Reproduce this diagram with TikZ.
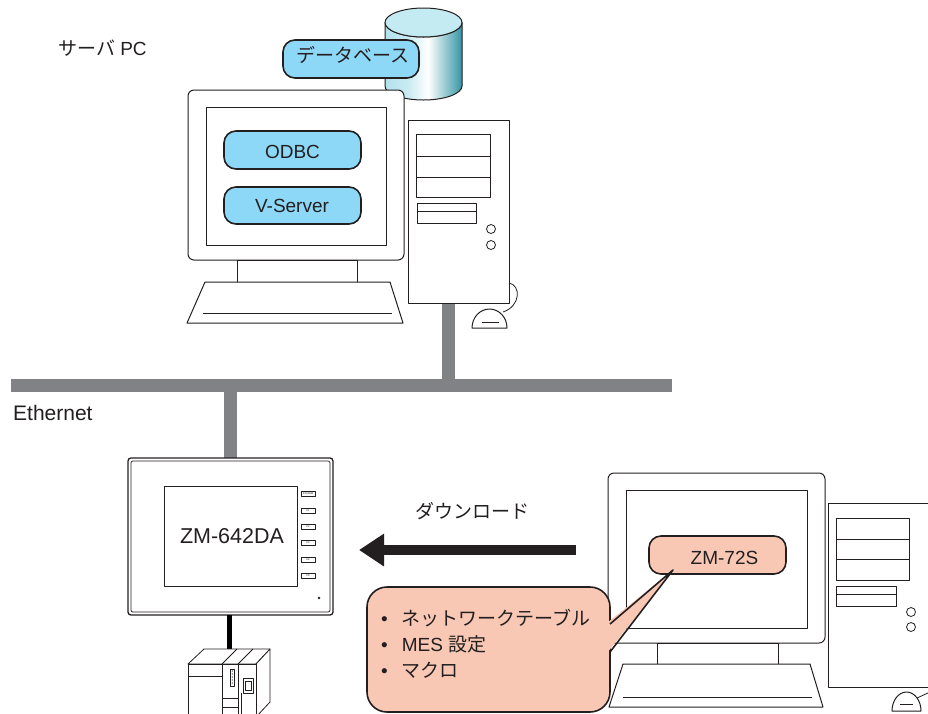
\documentclass[tikz,border=0pt]{standalone}
\usepackage{fontspec}
\setmainfont{Liberation Sans}
\newfontfamily\jp{Noto Sans CJK JP}
\usetikzlibrary{arrows.meta}
\definecolor{ink}{RGB}{35,31,32}
\definecolor{netgray}{RGB}{128,130,133}
\definecolor{appblue}{RGB}{142,216,247}
\definecolor{salmon}{RGB}{249,200,180}
\definecolor{cyllight}{RGB}{178,226,236}
\definecolor{cyltop}{RGB}{196,234,242}
\definecolor{cyldark}{RGB}{52,150,165}
\pgfdeclarehorizontalshading{cylshade}{100bp}{color(0bp)=(cyllight); color(25bp)=(cyllight); color(40bp)=(cyllight!70!white); color(53bp)=(white); color(75bp)=(cyldark); color(100bp)=(cyldark)}
\begin{document}
\begin{tikzpicture}[x=1pt,y=-1pt,line join=round]
\tikzset{
  outline/.style={draw=ink, line width=1pt, fill=white},
  thin/.style={draw=ink, line width=0.8pt},
  appbox/.style={draw=ink, line width=1.6pt, fill=appblue, rounded corners=12pt, inner sep=0pt},
  notebox/.style={draw=ink, line width=1.6pt, fill=salmon},
  net/.style={draw=netgray, line width=13pt},
  lbl/.style={inner sep=0pt, font=\fontsize{19}{19}\selectfont, text=ink},
  biglbl/.style={inner sep=0pt, font=\fontsize{21.5}{21.5}\selectfont, text=ink},
  key/.style={draw=ink, line width=0.6pt, fill=white, minimum width=14pt, minimum height=5pt, inner sep=0pt, font=\fontsize{2.5}{2.5}\selectfont},
}
\useasboundingbox (0,0) rectangle (928,713);
\clip (0,0) rectangle (928,713);
\fill[white] (0,0) rectangle (928,713);

% ---------- network wiring ----------
\coordinate (busW) at (11,385);
\coordinate (busE) at (672,385);
\coordinate (srvtap) at (448,385);
\coordinate (hmitap) at (230,385);
\coordinate (srvfoot) at (448,300);
\coordinate (hmitop) at (230,460);
\draw[net] (busW) -- (busE);
\draw[net] (srvfoot) -- (srvtap);
\draw[net] (hmitap) -- (hmitop);

% ---------- server PC ----------
% database cylinder
\shadedraw[shading=cylshade, draw=ink, line width=1pt]
  (385,22.5) -- (385,86) arc[start angle=180, end angle=0, x radius=38.5, y radius=14]
  -- (462,22.5) arc[start angle=0, end angle=180, x radius=38.5, y radius=14.5] -- cycle;
\draw[ink, line width=1pt, fill=cyltop] (423.5,22.5) ellipse[x radius=38.5, y radius=14.5];
\node[appbox, minimum width=136pt, minimum height=38pt] (db) at (351,59) {};
\node[lbl, anchor=base] (dbt) at (353,62) {\jp データベース};

% monitor
\draw[outline, rounded corners=6pt] (188,90) rectangle (404,260);
\draw[outline] (206,107) rectangle (386,245);
\draw[outline] (237,260) rectangle (357,282);
\draw[outline] (205,282) -- (390,282) -- (403,323) -- (187,323) -- cycle;
\draw[thin] (203,313) -- (392,313);
\node[appbox, minimum width=137pt, minimum height=38pt] (odbc) at (292.5,150) {};
\node[lbl, anchor=base] (odbct) at (292.5,158) {ODBC};
\node[appbox, minimum width=137pt, minimum height=37pt] (vsrv) at (292.5,205.5) {};
\node[lbl, anchor=base] (vsrvt) at (292,212) {V-Server};

% tower
\draw[outline] (408,120) rectangle (509,303);
\draw[thin] (416,134) rectangle (490,197);
\draw[thin] (416,156) -- (490,156);
\draw[thin] (416,177) -- (490,177);
\draw[thin] (417,203) rectangle (476,223);
\draw[thin] (417,211) -- (476,211);
\draw[thin] (491,229) circle[radius=4.5];
\draw[thin] (491,245) circle[radius=4.5];
% mouse and cable
\draw[thin] (509,283) .. controls (521,285) and (521,306) .. (503,312);
\draw[outline] (472,328) arc[start angle=180, end angle=360, x radius=17.5, y radius=19] -- cycle;
\draw[thin] (482,322) -- (499,322);

\node[lbl, anchor=base west] (srvlbl) at (58,55) {{\jp サーバ} PC};
\node[biglbl, anchor=base west, font=\fontsize{21}{21}\selectfont] (ethlbl) at (13,420) {Ethernet};

% ---------- operator panel ----------
\draw[ink, line width=1.3pt, fill=white, rounded corners=3pt] (128,458) rectangle (333,615);
\draw[ink, line width=0.7pt, rounded corners=2pt] (131,461) rectangle (330,612);
\node[draw=ink, line width=1pt, fill=white, minimum width=133pt, minimum height=100pt, inner sep=0pt] (hmi) at (230.5,536) {};
\node[biglbl, anchor=base] (hmit) at (232,543) {ZM-642DA};
\node[key] (ksys) at (308,494) {SYSTEM};
\node[key] (kf1) at (308,511) {F1};
\node[key] (kf2) at (308,527) {F2};
\node[key] (kf3) at (308,543) {F3};
\node[key] (kf4) at (308,560) {F4};
\node[key] (kf5) at (308,576) {F5};
\fill[ink] (319,598) circle[radius=1.3];

% cable to the PLC
\coordinate (hmibot) at (229.5,615);
\coordinate (plctop) at (229.5,657);
\draw[black, line width=5pt] (hmibot) -- (plctop);

% ---------- PLC ----------
\draw[outline, line width=0.8pt] (188,664) -- (204,649) -- (270,649) -- (256,664) -- cycle;
\draw[outline, line width=0.8pt] (256,664) -- (270,649) -- (270,702) -- (256,717) -- cycle;
\draw[outline, line width=0.8pt] (188,664) rectangle (256,720);
\draw[thin] (222,664) -- (222,720);
\draw[thin] (238,664) -- (238,720);
\draw[thin] (222,664) -- (237,649);
\draw[thin] (238,664) -- (253,649);
\draw[thin] (188,676) -- (222,676);
\draw[thin] (230.5,669) rectangle (234,686);
\foreach \yy in {671,674,677,680,683} \fill[ink] (232.2,\yy) circle[radius=0.6];
\draw[thin] (222,698) -- (238,698);
\draw[thin] (222,707) -- (238,707);
\draw[thin] (243,678) rectangle (253,693);
\draw[thin] (245,681) rectangle (251,690);
\draw[thin] (241,693) -- (241,720);

% ---------- download arrow ----------
\coordinate (dlfrom) at (576,550);
\coordinate (dlto) at (359,550);
\draw[ink, line width=10pt, -{Triangle[length=25pt, width=31pt]}] (dlfrom) -- (dlto);
\node[lbl, anchor=base] (dllbl) at (472,518) {\jp ダウンロード};

% ---------- engineering PC ----------
\draw[outline, rounded corners=6pt] (608,473) rectangle (825,643);
\draw[outline] (626,490) rectangle (807,628);
\draw[outline] (657,643) rectangle (778,664);
\draw[outline] (623,664) -- (810,664) -- (823,707) -- (609,707) -- cycle;
\draw[thin] (623,697) -- (812,697);
% tower
\draw[outline] (828,503) rectangle (945,687);
\draw[thin] (836,518) rectangle (909,580);
\draw[thin] (836,539) -- (909,539);
\draw[thin] (836,559) -- (909,559);
\draw[thin] (836,586) rectangle (896,606);
\draw[thin] (836,594) -- (896,594);
\draw[thin] (911,612) circle[radius=4.5];
\draw[thin] (911,627) circle[radius=4.5];
\draw[outline] (892,711) arc[start angle=180, end angle=360, x radius=14.5, y radius=19] -- cycle;
\draw[thin] (900,704) -- (913,704);
\draw[thin] (917,698) -- (930,692);

% editor box
\node[appbox, fill=salmon, minimum width=137pt, minimum height=38pt] (zm) at (717.5,555) {};
\node[lbl, anchor=base] (zmt) at (724.5,564) {ZM-72S};

% callout listing the transferred settings
\coordinate (tip) at (673,570);
\draw[notebox, rounded corners=20pt] (367,587) rectangle (610,712);
\fill[salmon] (607,623) -- (tip) -- (607,653) -- cycle;
\draw[ink, line width=1.6pt] (610,624) -- (tip) -- (610,652);
\node[lbl, anchor=base west] (n1) at (381,625) {\textbullet\hspace{14pt}{\jp ネットワークテーブル}};
\node[lbl, anchor=base west] (n2) at (381,651) {\textbullet\hspace{14pt}MES {\jp 設定}};
\node[lbl, anchor=base west] (n3) at (381,677) {\textbullet\hspace{14pt}{\jp マクロ}};
\end{tikzpicture}
\end{document}
